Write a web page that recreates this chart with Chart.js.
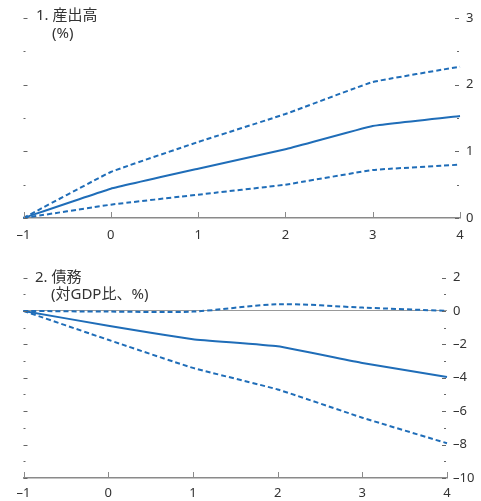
<!DOCTYPE html>
<html>
<head>
<meta charset="utf-8">
<script src="https://cdn.jsdelivr.net/npm/chart.js@4"></script>
<style>
  body { margin: 0; background: #fff; width: 481px; height: 501px; overflow: hidden; }
  .panel { position: absolute; left: 0; width: 481px; }
  .ttl { position: absolute; font-family: "Noto Sans", "Noto Sans CJK JP", sans-serif; font-size: 15px; color: #333; white-space: nowrap; line-height: 1; }
</style>
</head>
<body>
<div class="panel" style="top:0;height:250px"><canvas id="outputChart"></canvas></div>
<div class="panel" style="top:250px;height:251px"><canvas id="debtChart"></canvas></div>
<div class="ttl" style="left:36px;top:7px">1. 産出高</div>
<div class="ttl" style="left:52px;top:25px">(%)</div>
<div class="ttl" style="left:35px;top:269px">2. 債務</div>
<div class="ttl" style="left:51px;top:286px">(対GDP比、%)</div>
<script>
const periods = [-1, 0, 1, 2, 3, 4];

const outputMid = [0, 0.44, 0.74, 1.03, 1.38, 1.53];
const outputUpper = [0, 0.69, 1.14, 1.56, 2.04, 2.27];
const outputLower = [0, 0.2, 0.35, 0.5, 0.72, 0.8];

const debtMid = [0, -0.89, -1.69, -2.12, -3.12, -3.95];
const debtUpper = [0, -0.04, -0.04, 0.4, 0.2, 0.0];
const debtLower = [0, -1.73, -3.41, -4.7, -6.39, -7.92];

const blue = "#1f6db8";
const textColor = "#333";
const axisColor = "#8a8a8a";

function fmt(v) {
  return v < 0 ? "\u2013" + Math.abs(v) : String(v);
}

function series(values, dashed, tension) {
  return {
    data: periods.map((p, i) => ({ x: p, y: values[i] })),
    borderColor: blue,
    borderWidth: 2,
    borderDash: dashed ? [5, 3] : [],
    pointRadius: 0,
    tension: tension,
    clip: false
  };
}

// small inward tick marks on both sides and on the x axis
const tickMarks = {
  id: "tickMarks",
  afterDraw(chart, args, opts) {
    const { ctx, chartArea } = chart;
    const x = chart.scales.x;
    const y = chart.scales.y;
    ctx.save();
    ctx.strokeStyle = "#666";
    ctx.lineWidth = 1;
    ctx.beginPath();
    for (let v = y.min; v <= y.max + 1e-9; v += opts.minor) {
      const py = Math.round(y.getPixelForValue(v)) + 0.5;
      const major = Math.abs(v / opts.major - Math.round(v / opts.major)) < 1e-6;
      const len = major ? 4 : 2;
      ctx.moveTo(chartArea.left, py);
      ctx.lineTo(chartArea.left + len, py);
      ctx.moveTo(chartArea.right - len - 1, py);
      ctx.lineTo(chartArea.right - 1, py);
    }
    ctx.stroke();
    ctx.strokeStyle = axisColor;
    ctx.beginPath();
    for (let v = x.min; v <= x.max; v++) {
      const px = Math.round(x.getPixelForValue(v)) + 0.5;
      ctx.moveTo(px, chartArea.bottom);
      ctx.lineTo(px, chartArea.bottom - 6);
    }
    ctx.stroke();
    ctx.restore();
  }
};

function makeChart(id, datasets, yMin, yMax, yStep, minor, yWidth, xHeight, padTop, labelPad, zeroLine) {
  return new Chart(document.getElementById(id), {
    type: "line",
    data: { datasets },
    options: {
      responsive: true,
      maintainAspectRatio: false,
      animation: false,
      layout: { padding: { left: 23.5, top: padTop, right: 0, bottom: 0 } },
      plugins: {
        legend: { display: false },
        tooltip: { enabled: false },
        tickMarks: { minor, major: yStep }
      },
      scales: {
        x: {
          type: "linear",
          min: -1,
          max: 4,
          ticks: {
            stepSize: 1,
            padding: labelPad,
            color: textColor,
            font: { family: "'Noto Sans', sans-serif", size: 13 },
            callback: v => fmt(v)
          },
          grid: { display: false, drawTicks: false },
          border: { display: true, color: axisColor, width: 1.5 },
          afterFit: s => { s.height = xHeight; }
        },
        y: {
          position: "right",
          min: yMin,
          max: yMax,
          ticks: {
            stepSize: yStep,
            padding: 6,
            color: textColor,
            font: { family: "'Noto Sans', sans-serif", size: 13 },
            callback: v => fmt(v)
          },
          grid: {
            drawTicks: false,
            drawOnChartArea: zeroLine,
            color: ctx => (ctx.tick && ctx.tick.value === 0 ? "#999" : "rgba(0,0,0,0)"),
            lineWidth: 1
          },
          border: { display: false },
          afterFit: s => { s.width = yWidth; }
        }
      }
    },
    plugins: [tickMarks]
  });
}

makeChart("outputChart",
  [series(outputMid, false, 0.08), series(outputUpper, true, 0.08), series(outputLower, true, 0.08)],
  0, 3, 1, 0.5, 21, 32, 18, 9, false);

makeChart("debtChart",
  [series(debtMid, false, 0.12), series(debtUpper, true, 0.3), series(debtLower, true, 0.12)],
  -10, 2, 2, 1, 34, 23, 27.5, 7, true);
</script>
</body>
</html>
